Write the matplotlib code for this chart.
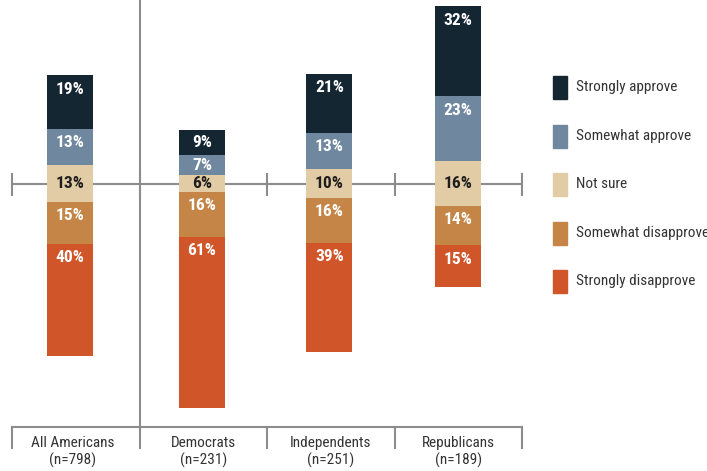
import matplotlib.pyplot as plt
from matplotlib.patches import Rectangle
from matplotlib import font_manager

groups = ['All Americans', 'Democrats', 'Independents', 'Republicans']
sizes = ['(n=798)', '(n=231)', '(n=251)', '(n=189)']
strongly_approve = [19, 9, 21, 32]
somewhat_approve = [13, 7, 13, 23]
not_sure = [13, 6, 10, 16]
somewhat_disapprove = [15, 16, 16, 14]
strongly_disapprove = [40, 61, 39, 15]

labels = ['Strongly approve', 'Somewhat approve', 'Not sure',
          'Somewhat disapprove', 'Strongly disapprove']
colors = ['#152633', '#6f879f', '#e2cca6', '#c48546', '#d05528']

# pick a narrow font if one is there
names = {f.name for f in font_manager.fontManager.ttflist}
narrow = [n for n in ['Roboto Condensed', 'Liberation Sans Narrow']
          if n in names]
plt.rcParams['font.family'] = narrow + ['DejaVu Sans']

W, H = 707, 471
fig = plt.figure(figsize=(W / 100, H / 100), dpi=100)
ax = fig.add_axes([0, 0, 1, 1])
ax.axis('off')

# x units: groups (borders at 12, 139.5, 267, 394.5, 522 px)
# y units: percent, 0 on the middle line
x0, xs = 12, 127.5
y0, ys = 183.5, 2.81
ax.set_xlim(-x0 / xs, (W - x0) / xs)
ax.set_ylim((y0 - H) / ys, y0 / ys)

centers = [0.455, 1.49, 2.49, 3.495]
bw = 46 / xs
gray = '#8c8c8c'

# middle line with ticks
ax.plot([0, 4], [0, 0], color=gray, lw=1.5, zorder=1)
for b in range(5):
    ax.plot([b, b], [-4, 3.5], color=gray, lw=1.5, zorder=1)

# divider and bottom bracket
yb = (y0 - 427) / ys
ax.plot([1.0, 1.0], [(y0 - 1) / ys, yb], color=gray, lw=1.5, zorder=1)
ax.plot([0, 4], [yb, yb], color=gray, lw=1.5)
for b in range(5):
    ax.plot([b, b], [yb, (y0 - 448) / ys], color=gray, lw=1.5)

series = [strongly_approve, somewhat_approve, not_sure,
          somewhat_disapprove, strongly_disapprove]
off = 14 / ys
for i in range(len(groups)):
    top = not_sure[i] / 2 + somewhat_approve[i] + strongly_approve[i]
    for k, s in enumerate(series):
        v = s[i]
        ax.bar(centers[i], v, bottom=top - v, width=bw, color=colors[k],
               zorder=2)
        if k == 2:
            ty = top - v / 2
            tc = '#1e1e1e'
        else:
            ty = top - min(v / 2, off)
            tc = 'white'
        ax.text(centers[i], ty, f'{v}%', ha='center', va='center',
                color=tc, fontsize=12.5, fontweight='bold', zorder=3)
        top -= v
    gx = i + 0.5 if i > 0 else (73 - x0) / xs
    ax.text(gx, (y0 - 443) / ys, groups[i], ha='center', va='center',
            fontsize=11, color='#333333')
    ax.text(gx, (y0 - 460) / ys, sizes[i], ha='center', va='center',
            fontsize=11, color='#333333')

# legend
for k, lab in enumerate(labels):
    cy = 87.5 + k * 48.5
    fig.patches.append(Rectangle((553 / W, 1 - (cy + 11.5) / H), 14 / W, 23 / H,
                                 transform=fig.transFigure, color=colors[k]))
    fig.text(576 / W, 1 - cy / H, lab, ha='left', va='center',
             fontsize=11, color='#333333')

fig.savefig('out.png', dpi=100)
